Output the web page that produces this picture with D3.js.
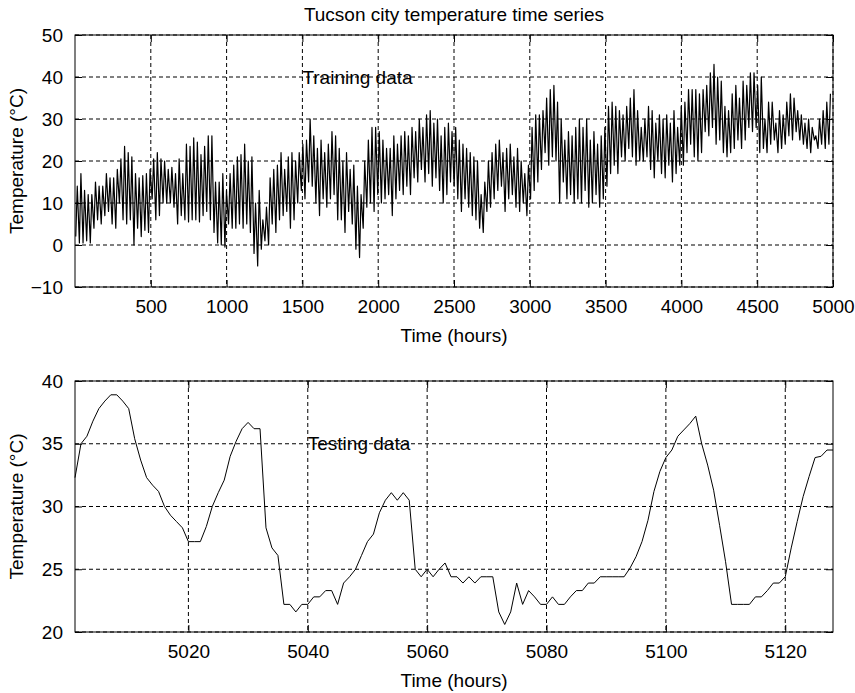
<!DOCTYPE html>
<html>
<head>
<meta charset="utf-8">
<script src="https://cdn.jsdelivr.net/npm/d3@7"></script>
<style>
  body { margin: 0; background: #fff; }
  text { font-family: "Liberation Sans", Arial, sans-serif; fill: #000; }
</style>
</head>
<body>
<svg id="chart" width="855" height="693"></svg>
<script>
// daily highs / lows (one pair per 24 h)
const dailyHigh = [
  14, 17, 13, 12, 12, 15, 14, 14, 17, 16, 16, 18, 20.5, 23.5, 22, 21, 17,
  16, 16.5, 17, 18, 20.5, 22, 20.5, 20, 18, 18.5, 17, 20.5, 17, 24, 23.5, 25.5, 24.5,
  21.5, 23.5, 26, 26, 15, 15, 17, 13, 17, 19, 21, 21.5, 24, 20, 21,
  10, 13, 6, 9, 16, 18, 19, 22, 18, 21, 22, 20, 22, 24, 25, 30, 26, 23,
  25, 22, 24, 27, 26, 23, 20, 22, 18, 19, 14, 12, 20, 25,
  28, 28, 27, 25, 23, 23, 26, 24, 26, 27, 26, 28, 27, 30,
  28, 31, 32, 29, 30, 26, 28, 29, 27, 28, 25, 24, 23, 22, 21, 20, 12, 15,
  20, 22, 24, 25, 22, 23, 24, 21, 23, 20, 17, 19,
  28, 31, 31, 32, 35, 37, 38, 34, 30, 25, 27, 26, 28, 30,
  28, 30, 25, 27, 24, 26, 28, 33, 34, 33, 32, 31, 33, 35, 37, 32, 28,
  30, 33, 32, 29, 31, 30, 31, 29, 32, 28, 33, 34, 37, 37, 37, 36,
  37, 38, 41, 43, 40, 39, 33, 32, 36, 38, 35, 39, 38, 41, 41, 38, 40,
  30, 34, 34, 29, 32, 31, 34, 36, 35, 32, 31, 29, 30, 28, 26, 30, 32, 34, 36
];
const dailyLow = [
  2, 0.5, 0.5, 1, 0.5, 4, 6, 5, 7, 8, 5, 4, 10, 6, 5, 6, 0,
  4, 2, 3.5, 3, 11, 6, 7, 10, 10, 10, 9, 5, 7, 6, 5.5, 6, 6,
  5.5, 7, 8, 6, 3, 0.5, 0, -0.5, 5, 4, 4, 5, 4, 5, 3,
  -2, -5, -1, 1, 0, 5, 3, 6, 7, 8, 4, 6, 10, 13, 11, 15, 14, 10,
  7, 11, 9, 11, 12, 6, 6, 3, 8, 5, -1, -3, 4, 9,
  10, 8, 12, 10, 11, 12, 7, 11, 13, 12, 14, 12, 16, 15,
  18, 15, 17, 14, 16, 13, 10, 12, 15, 14, 11, 8, 11, 9, 7, 6, 4, 3,
  8, 9, 11, 13, 14, 8, 11, 12, 9, 8, 10, 7,
  11, 13, 15, 18, 22, 19, 21, 20, 10, 15, 11, 12, 10, 11,
  10, 13, 9, 10, 12, 9, 11, 14, 17, 19, 17, 21, 20, 23, 21, 19, 20,
  20, 21, 18, 16, 20, 17, 16, 19, 15, 17, 19, 19, 22, 24, 21, 20,
  22, 27, 26, 28, 24, 25, 22, 21, 22, 23, 25, 23, 25, 28, 27, 28, 22,
  23, 22, 24, 25, 22, 23, 24, 26, 25, 27, 25, 24, 23, 22, 25, 23, 24, 23, 24
];
const lowHour = 5, highHour = 15;

// testing panel: hourly values, hours 5001..5128
const testStart = 5001;
const testTemps = [
  32.3, 35.0, 35.6, 36.8, 37.8, 38.4, 38.9, 38.9, 38.4, 37.8,
  35.4, 33.7, 32.3, 31.7, 31.2, 30.0, 29.3, 28.8, 28.3, 27.2,
  27.2, 27.2, 28.4, 30.0, 31.1, 32.1, 34.0, 35.2, 36.2, 36.7,
  36.2, 36.2, 28.3, 26.7, 26.1, 22.2, 22.2, 21.6, 22.2, 22.2,
  22.8, 22.8, 23.3, 23.3, 22.2, 23.9, 24.4, 25.0, 26.1, 27.2,
  27.8, 29.5, 30.5, 31.1, 30.5, 31.1, 30.5, 25.0, 24.4, 25.0,
  24.4, 25.0, 25.5, 24.4, 24.4, 23.9, 24.4, 23.9, 24.4, 24.4,
  24.4, 21.6, 20.6, 21.6, 23.9, 22.2, 23.3, 22.8, 22.2, 22.2,
  22.8, 22.2, 22.2, 22.8, 23.3, 23.3, 23.9, 23.9, 24.4, 24.4,
  24.4, 24.4, 24.4, 25.1, 26.0, 27.2, 28.9, 31.2, 32.8, 33.9,
  34.5, 35.6, 36.1, 36.6, 37.2, 35.0, 33.3, 31.3, 28.5, 25.6,
  22.2, 22.2, 22.2, 22.2, 22.8, 22.8, 23.3, 23.9, 23.9, 24.4,
  26.7, 28.8, 30.8, 32.4, 33.9, 34.0, 34.5, 34.5
];

const topXTicks = [500, 1000, 1500, 2000, 2500, 3000, 3500, 4000, 4500, 5000];
const topYTicks = [-10, 0, 10, 20, 30, 40, 50];
const botXTicks = [5020, 5040, 5060, 5080, 5100, 5120];
const botYTicks = [20, 25, 30, 35, 40];

const svg = d3.select("#chart");
const left = 75, right = 833;
const fs = "19px";
const fmt = d3.format("d");

svg.append("text")
  .attr("x", (left + right) / 2)
  .attr("y", 21)
  .attr("text-anchor", "middle")
  .style("font-size", fs)
  .text("Tucson city temperature time series");

function panel(cfg) {
  const x = d3.scaleLinear().domain(cfg.xDomain).range([left, right]);
  const y = d3.scaleLinear().domain(cfg.yDomain).range([cfg.bottom, cfg.top]);
  const g = svg.append("g");

  // dashed grid
  g.append("g").selectAll("line").data(cfg.xTicks).join("line")
    .attr("x1", d => x(d)).attr("x2", d => x(d))
    .attr("y1", cfg.top).attr("y2", cfg.bottom)
    .attr("stroke", "#000").attr("stroke-width", 1)
    .attr("stroke-dasharray", "4,3");
  g.append("g").selectAll("line").data(cfg.yTicks).join("line")
    .attr("x1", left).attr("x2", right)
    .attr("y1", d => y(d)).attr("y2", d => y(d))
    .attr("stroke", "#000").attr("stroke-width", 1)
    .attr("stroke-dasharray", "4,3");

  // data line
  g.append("path")
    .datum(cfg.data)
    .attr("fill", "none")
    .attr("stroke", "#000")
    .attr("stroke-width", cfg.lw)
    .attr("stroke-linejoin", "round")
    .attr("d", d3.line().x(d => x(d.h)).y(d => y(d.v)));

  // axes, ticks inward on all four sides
  const tl = 7;
  g.append("g").attr("transform", `translate(0,${cfg.bottom})`)
    .call(d3.axisBottom(x).tickValues(cfg.xTicks).tickFormat(fmt).tickSizeInner(-tl).tickSizeOuter(0).tickPadding(13));
  g.append("g").attr("transform", `translate(0,${cfg.top})`)
    .call(d3.axisTop(x).tickValues(cfg.xTicks).tickFormat("").tickSizeInner(-tl).tickSizeOuter(0));
  g.append("g").attr("transform", `translate(${left},0)`)
    .call(d3.axisLeft(y).tickValues(cfg.yTicks).tickFormat(fmt).tickSizeInner(-tl).tickSizeOuter(0).tickPadding(12));
  g.append("g").attr("transform", `translate(${right},0)`)
    .call(d3.axisRight(y).tickValues(cfg.yTicks).tickFormat("").tickSizeInner(-tl).tickSizeOuter(0));
  g.selectAll(".domain").remove();
  g.selectAll(".tick line").attr("stroke", "#000");
  g.selectAll(".tick text").style("font-size", fs).style("font-family", "Liberation Sans, Arial, sans-serif");

  g.append("rect")
    .attr("x", left).attr("y", cfg.top)
    .attr("width", right - left).attr("height", cfg.bottom - cfg.top)
    .attr("fill", "none").attr("stroke", "#000").attr("stroke-width", 1);

  g.append("text")
    .attr("x", x(cfg.label[0])).attr("y", y(cfg.label[1]))
    .attr("dy", "0.35em")
    .style("font-size", fs)
    .text(cfg.label[2]);

  g.append("text")
    .attr("x", (left + right) / 2).attr("y", cfg.bottom + 55)
    .attr("text-anchor", "middle")
    .style("font-size", fs)
    .text("Time (hours)");

  g.append("text")
    .attr("transform", `translate(23,${(cfg.top + cfg.bottom) / 2}) rotate(-90)`)
    .attr("text-anchor", "middle")
    .style("font-size", fs)
    .text("Temperature (°C)");
}

const trainSeries = [];
dailyHigh.forEach((hi, i) => {
  trainSeries.push({ h: i * 24 + lowHour, v: dailyLow[i] });
  trainSeries.push({ h: i * 24 + highHour, v: hi });
});

const testSeries = testTemps.map((v, i) => ({ h: testStart + i, v }));

panel({
  top: 35, bottom: 287,
  xDomain: [0, 5000], yDomain: [-10, 50],
  xTicks: topXTicks, yTicks: topYTicks,
  data: trainSeries, lw: 1.2,
  label: [1500, 40, "Training data"]
});

panel({
  top: 381, bottom: 632,
  xDomain: [5001, 5128], yDomain: [20, 40],
  xTicks: botXTicks, yTicks: botYTicks,
  data: testSeries, lw: 1,
  label: [5040, 35, "Testing data"]
});
</script>
</body>
</html>
